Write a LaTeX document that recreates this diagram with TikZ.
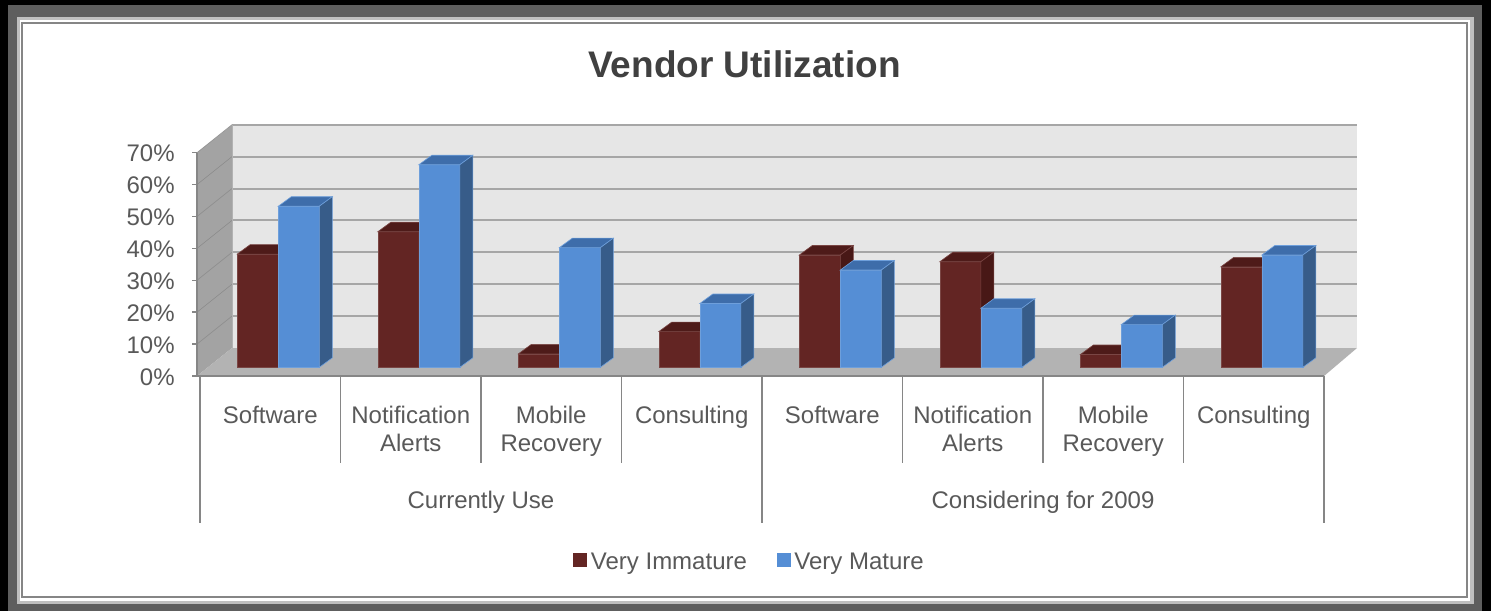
\documentclass[tikz,border=0pt]{standalone}
\usepackage{fontspec}
\setmainfont{Liberation Sans}
\definecolor{txt}{HTML}{595959}
\definecolor{titlec}{HTML}{404040}
\definecolor{axisc}{HTML}{868686}
\definecolor{gridc}{HTML}{A6A6A6}
\definecolor{backw}{HTML}{E6E6E6}
\definecolor{sidew}{HTML}{A3A3A3}
\definecolor{floorw}{HTML}{B3B3B3}
\definecolor{redF}{HTML}{632523}
\definecolor{redT}{HTML}{4E1B19}
\definecolor{redS}{HTML}{481816}
\definecolor{bluF}{HTML}{558ED5}
\definecolor{bluT}{HTML}{3E6DAA}
\definecolor{bluS}{HTML}{375C89}
\newcommand\barthreed[3]{%
  \fill[#3F,draw=#3F!85!white,line width=0.3pt] (#1,367.3) rectangle ({#1+41},{367.3-#2});
  \fill[#3T,draw=#3F!85!white,line width=0.3pt] (#1,{367.3-#2}) -- ({#1+41},{367.3-#2}) -- ({#1+54},{357.8-#2}) -- ({#1+13},{357.8-#2}) -- cycle;
  \fill[#3S,draw=#3F!85!white,line width=0.3pt] ({#1+41},367.3) -- ({#1+41},{367.3-#2}) -- ({#1+54},{357.8-#2}) -- ({#1+54},357.8) -- cycle;
}
\begin{document}
\begin{tikzpicture}[x=0.5pt,y=-0.5pt,
  lbl/.style={text=txt,font=\fontsize{12pt}{14.2pt}\selectfont,inner sep=0pt},
  axline/.style={draw=axisc,line width=0.75pt}]
\useasboundingbox (0,0) rectangle (1491,611);
% frame
\fill[black] (0,0) rectangle (1491,611);
\fill[black!63] (7.5,5) rectangle (1482,611);
\fill[black!25] (16.5,16.5) rectangle (1474,604);
\fill[white] (19.5,19.5) rectangle (1470,600.5);
\draw[axisc,line width=1pt] (22,22.5) rectangle (1467,597);
% title
\node[text=titlec,font=\fontsize{18.5pt}{20pt}\selectfont\bfseries,anchor=base,inner sep=0pt] (title) at (744.5,77.7) {Vendor Utilization};
% walls
\fill[backw] (232,125) rectangle (1357,348);
\fill[sidew] (197,376) -- (197,152.7) -- (232,125) -- (232,348) -- cycle;
\fill[floorw] (197,376) -- (1324,376) -- (1357,348) -- (232,348) -- cycle;
\foreach \k in {1,...,7} {
  \draw[gridc,line width=1pt] (232,{348-31.9*\k}) -- (1357,{348-31.9*\k});
  \draw[black!45,line width=0.3pt] (197,{376-31.9*\k}) -- (232,{348-31.9*\k});
}
\draw[black!30,line width=0.5pt] (232,125) -- (232,348);
% y axis
\draw[axline] (197,152.7) -- (197,376);
\foreach \k [evaluate=\k as \v using int(\k*10)] in {0,...,7} {
  \draw[axline] (192,{376-31.9*\k}) -- (197,{376-31.9*\k});
  \node[lbl,anchor=base east] (y\k) at (175,{385-31.9*\k}) {\v\%};
}
% category axis
\draw[axline] (197,376) -- (1324,376);
\foreach \i in {1,2,3,5,6,7} \draw[axline] ({200+140.5*\i},376) -- ({200+140.5*\i},463);
\foreach \i in {0,4,8} \draw[axline] ({200+140.5*\i},376) -- ({200+140.5*\i},523);
% bars
\foreach \i/\r/\b in {0/35.5/50.5, 1/42.5/63.5, 2/4.2/37.5, 3/11.2/20, 4/35.2/30.5, 5/33.1/18.5, 6/4/13.4, 7/31.5/35.2} {
  \pgfmathsetmacro\xs{200+140.5*\i+37.3}
  \pgfmathsetmacro\xb{\xs+41}
  \pgfmathsetmacro\hr{3.19*\r}
  \pgfmathsetmacro\hb{3.19*\b}
  \barthreed{\xs}{\hr}{red}
  \barthreed{\xb}{\hb}{blu}
}
% category labels (single line: base of line; two lines: base of last line)
\foreach \i/\t/\yb in {0/Software/423.3, 1/Notification\\Alerts/451.7, 2/Mobile\\Recovery/451.7, 3/Consulting/423.3, 4/Software/423.3, 5/Notification\\Alerts/451.7, 6/Mobile\\Recovery/451.7, 7/Consulting/423.3} {
  \node[lbl,align=center,anchor=base] (c\i) at ({270.25+140.5*\i},\yb) {\t};
}
\node[lbl,anchor=base] (g1) at (481,508.3) {Currently Use};
\node[lbl,anchor=base] (g2) at (1043,508.3) {Considering for 2009};
% legend
\fill[redF] (573.3,552.7) rectangle (586.7,567.3);
\node[lbl,anchor=base west] (l1) at (590.5,569.3) {Very Immature};
\fill[bluF] (777.3,552.7) rectangle (790.7,567.3);
\node[lbl,anchor=base west] (l2) at (794,569.3) {Very Mature};
\end{tikzpicture}
\end{document}
